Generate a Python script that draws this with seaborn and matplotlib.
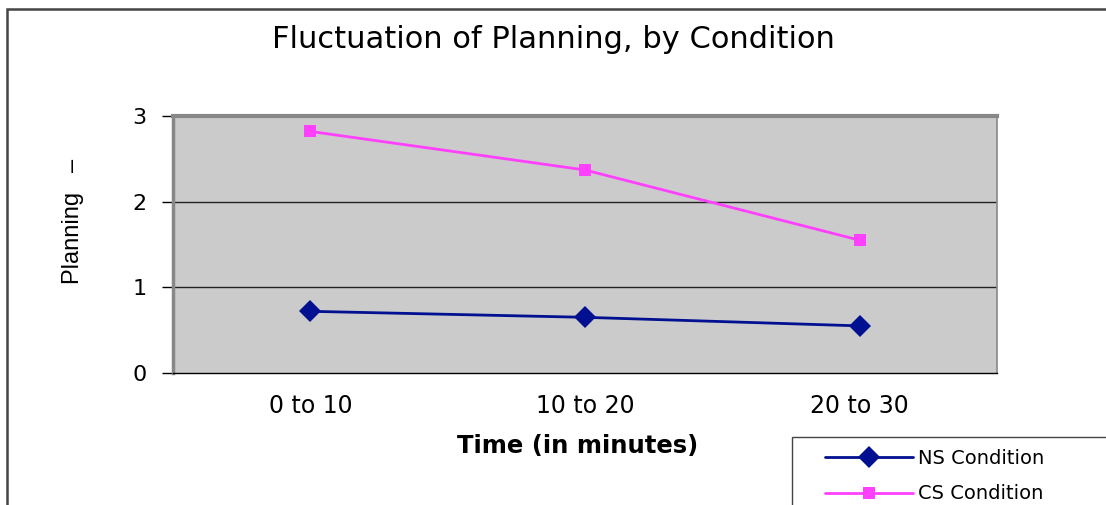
import matplotlib
matplotlib.use("Agg")
import matplotlib.pyplot as plt
import seaborn as sns
import pandas as pd
from matplotlib.patches import Rectangle

categories = ["0 to 10", "10 to 20", "20 to 30"]
ns_values = [0.72, 0.65, 0.55]
cs_values = [2.82, 2.37, 1.55]
series_names = ["NS Condition", "CS Condition"]
y_ticks = [0, 1, 2, 3]

df = pd.DataFrame({
    "Time": categories * 2,
    "Planning": ns_values + cs_values,
    "Series": [series_names[0]] * 3 + [series_names[1]] * 3,
})

sns.set_theme(style="white")
plt.rcParams["font.family"] = ["DejaVu Sans"]
plt.rcParams["text.color"] = "black"
plt.rcParams["axes.labelcolor"] = "black"
plt.rcParams["xtick.color"] = "black"
plt.rcParams["ytick.color"] = "black"

W, H = 1106, 505
fig = plt.figure(figsize=(W / 100, H / 100), dpi=100)
ax = fig.add_axes([173 / W, 1 - 373 / H, (997 - 173) / W, (373 - 116) / H])
ax.set_facecolor("#CBCBCB")

palette = {"NS Condition": "#001090", "CS Condition": "#FF40FF"}
markers = {"NS Condition": "D", "CS Condition": "s"}
sns.lineplot(data=df, x="Time", y="Planning", hue="Series", style="Series",
             palette=palette, markers=markers, dashes=False, ax=ax,
             linewidth=2, markeredgewidth=0, sort=False)
for ln in ax.get_lines():
    if ln.get_marker() == "D":
        ln.set_markersize(11)
    elif ln.get_marker() == "s":
        ln.set_markersize(9)

ax.set_xlim(-0.5, 2.5)
ax.set_ylim(0, 3)
ax.set_yticks(y_ticks)
ax.set_yticklabels([str(t) for t in y_ticks], fontsize=16)
ax.set_xticks(range(len(categories)))
ax.set_xticklabels(categories, fontsize=17)
ax.set_xticks([-0.5, 0.5, 1.5, 2.5], minor=True)
ax.tick_params(axis="x", which="major", length=0, pad=15)
ax.tick_params(axis="x", which="minor", length=7, width=1, color="black", direction="out")
ax.tick_params(axis="y", which="major", length=8, width=1, color="black", direction="out", left=True, pad=11)
for yv in [1, 2]:
    ax.axhline(yv, color="#222222", linewidth=1, zorder=1)
for s in ["top", "right", "left"]:
    ax.spines[s].set_color("#888888")
ax.spines["top"].set_linewidth(3)
ax.spines["left"].set_linewidth(2.5)
ax.spines["right"].set_linewidth(1.2)
ax.spines["bottom"].set_color("black")
ax.spines["bottom"].set_linewidth(1)

ax.set_xlabel("Time (in minutes)", fontsize=17.5, fontweight="bold")
ax.xaxis.set_label_coords((578 - 173) / 824, -(434 - 373) / 257)
ax.set_ylabel("Planning   \u2013", fontsize=17, family="Liberation Sans")
ax.yaxis.set_label_coords((84 - 173) / 824, 1 - (221 - 116) / 257)
fig.text(553 / W, 1 - 39 / H, "Fluctuation of Planning, by Condition",
         ha="center", va="center", fontsize=22)

handles, labels = ax.get_legend_handles_labels()
ax.get_legend().remove()
for h in handles:
    h.set_markeredgewidth(0)
leg = fig.legend(handles, labels, loc="upper left",
                 bbox_to_anchor=(825 / W, 1 - 449 / H), frameon=False,
                 fontsize=14, handlelength=4.5, handletextpad=0.3,
                 labelspacing=0.84, borderpad=0, borderaxespad=0)
for t in leg.get_texts():
    t.set_color("black")

fig.patches.append(Rectangle((792 / W, -0.05), 0.3, (1 - 437 / H) + 0.05,
                             transform=fig.transFigure, fill=False,
                             edgecolor="#444444", linewidth=1))
fig.patches.append(Rectangle((7 / W, -0.05), 1.1, (1 - 9 / H) + 0.05,
                             transform=fig.transFigure, fill=False,
                             edgecolor="#444444", linewidth=1.8))

fig.savefig("out.png", dpi=100, facecolor="white")
